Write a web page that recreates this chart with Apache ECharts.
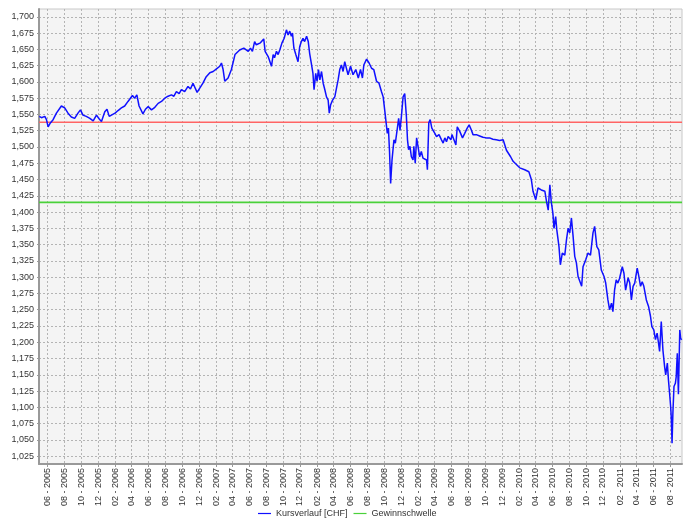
<!DOCTYPE html>
<html>
<head>
<meta charset="utf-8">
<script src="https://cdn.jsdelivr.net/npm/echarts@6/dist/echarts.min.js"></script>
<style>
  html, body { margin: 0; padding: 0; background: #fff; }
  #chart { width: 683px; height: 525px; }
</style>
</head>
<body>
<div id="chart"></div>
<script>
const kursDates = [
  '2005-05-02','2005-05-10','2005-05-22','2005-05-28','2005-06-03','2005-06-11','2005-06-21','2005-07-03','2005-07-21','2005-08-02',
  '2005-08-14','2005-08-26','2005-09-07','2005-09-19','2005-09-28','2005-10-07','2005-10-19','2005-11-01','2005-11-13','2005-11-25',
  '2005-12-05','2005-12-13','2005-12-25','2006-01-02','2006-01-10','2006-01-18','2006-01-31','2006-02-11','2006-02-23','2006-03-07',
  '2006-03-19','2006-03-25','2006-04-04','2006-04-12','2006-04-20','2006-04-28','2006-05-12','2006-05-21','2006-05-31','2006-06-12',
  '2006-06-24','2006-07-06','2006-07-18','2006-07-30','2006-08-11','2006-08-23','2006-09-01','2006-09-10','2006-09-20','2006-09-28',
  '2006-10-10','2006-10-22','2006-10-31','2006-11-09','2006-11-16','2006-11-24','2006-12-03','2006-12-15','2006-12-27','2007-01-09',
  '2007-01-21','2007-02-02','2007-02-14','2007-02-20','2007-02-26','2007-03-04','2007-03-16','2007-03-28','2007-04-10','2007-04-27',
  '2007-05-12','2007-05-19','2007-05-28','2007-06-05','2007-06-12','2007-06-20','2007-06-26','2007-07-02','2007-07-11','2007-07-18',
  '2007-07-23','2007-07-28','2007-08-02','2007-08-08','2007-08-16','2007-08-20','2007-08-26','2007-08-31','2007-09-07','2007-09-13',
  '2007-09-19','2007-09-27','2007-10-05','2007-10-13','2007-10-19','2007-10-25','2007-10-31','2007-11-04','2007-11-09','2007-11-16',
  '2007-11-21','2007-11-24','2007-11-30','2007-12-06','2007-12-12','2007-12-18','2007-12-25','2007-12-31','2008-01-05','2008-01-11',
  '2008-01-17','2008-01-21','2008-01-27','2008-02-01','2008-02-06','2008-02-11','2008-02-17','2008-02-23','2008-02-29','2008-03-06',
  '2008-03-12','2008-03-16','2008-03-21','2008-03-28','2008-04-05','2008-04-11','2008-04-17','2008-04-23','2008-04-29','2008-05-05',
  '2008-05-11','2008-05-17','2008-05-23','2008-06-01','2008-06-10','2008-06-20','2008-06-29','2008-07-07','2008-07-14','2008-07-19',
  '2008-07-29','2008-08-07','2008-08-16','2008-08-24','2008-09-03','2008-09-12','2008-09-21','2008-09-27','2008-10-03','2008-10-09',
  '2008-10-12','2008-10-16','2008-10-20','2008-10-24','2008-10-29','2008-11-05','2008-11-10','2008-11-18','2008-11-22','2008-11-27',
  '2008-12-02','2008-12-08','2008-12-14','2008-12-20','2008-12-24','2008-12-28','2009-01-02','2009-01-07','2009-01-13','2009-01-16',
  '2009-01-21','2009-01-26','2009-01-31','2009-02-06','2009-02-12','2009-02-18','2009-02-24','2009-03-03','2009-03-06','2009-03-11',
  '2009-03-16','2009-03-22','2009-03-27','2009-04-02','2009-04-08','2009-04-17','2009-04-26','2009-05-02','2009-05-08','2009-05-14',
  '2009-05-20','2009-05-30','2009-06-03','2009-06-10','2009-06-17','2009-06-22','2009-07-01','2009-07-11','2009-07-19','2009-07-28',
  '2009-08-04','2009-08-12','2009-08-18','2009-08-30','2009-09-11','2009-09-23','2009-10-05','2009-10-17','2009-10-29','2009-11-10',
  '2009-11-22','2009-12-05','2009-12-11','2009-12-17','2010-01-01','2010-01-10','2010-01-22','2010-02-03','2010-02-21','2010-03-08',
  '2010-03-17','2010-03-23','2010-03-29','2010-04-02','2010-04-10','2010-04-22','2010-05-05','2010-05-11','2010-05-17','2010-05-23',
  '2010-05-28','2010-06-03','2010-06-07','2010-06-13','2010-06-17','2010-06-25','2010-06-30','2010-07-07','2010-07-16','2010-07-22',
  '2010-07-28','2010-08-03','2010-08-09','2010-08-15','2010-08-21','2010-08-27','2010-09-02','2010-09-08','2010-09-15','2010-09-20',
  '2010-09-30','2010-10-08','2010-10-17','2010-10-26','2010-11-01','2010-11-09','2010-11-16','2010-11-25','2010-12-05','2010-12-11',
  '2010-12-19','2010-12-25','2011-01-01','2011-01-06','2011-01-12','2011-01-18','2011-01-24','2011-01-30','2011-02-05','2011-02-09',
  '2011-02-15','2011-02-21','2011-03-02','2011-03-08','2011-03-14','2011-03-20','2011-03-26','2011-04-04','2011-04-10','2011-04-16',
  '2011-04-22','2011-04-28','2011-05-07','2011-05-15','2011-05-22','2011-05-27','2011-06-03','2011-06-09','2011-06-15','2011-06-20',
  '2011-06-24','2011-06-30','2011-07-06','2011-07-12','2011-07-16','2011-07-22','2011-07-26','2011-07-30','2011-08-03','2011-08-05',
  '2011-08-08','2011-08-11','2011-08-15','2011-08-20','2011-08-23','2011-08-27','2011-08-31','2011-09-05','2011-09-08','2011-09-12'
];
const kursValues = [
  1547,1545,1547,1542,1531,1537,1542,1552,1563,1560,
  1552,1546,1544,1552,1557,1549,1547,1544,1540,1549,
  1543,1539,1554,1558,1547,1549,1552,1556,1560,1563,
  1570,1573,1579,1575,1580,1563,1551,1558,1562,1557,
  1561,1567,1570,1575,1578,1580,1578,1585,1582,1588,
  1585,1593,1589,1598,1601,1584,1590,1598,1608,1614,
  1616,1620,1624,1629,1619,1601,1606,1619,1642,1649,
  1652,1654,1647,1652,1647,1662,1657,1654,1660,1657,
  1666,1647,1649,1639,1629,1624,1642,1637,1647,1642,
  1649,1660,1667,1680,1672,1678,1670,1675,1652,1642,
  1644,1631,1654,1662,1667,1662,1670,1662,1644,1629,
  1613,1588,1613,1601,1619,1603,1616,1598,1588,1577,
  1572,1552,1565,1572,1577,1590,1603,1619,1626,1616,
  1631,1634,1611,1624,1611,1619,1606,1619,1606,1626,
  1635,1629,1621,1619,1601,1598,1585,1577,1555,1552,
  1521,1529,1493,1444,1480,1511,1506,1531,1544,1526,
  1547,1577,1582,1547,1511,1496,1501,1485,1480,1501,
  1475,1514,1501,1485,1493,1483,1480,1480,1465,1537,
  1542,1529,1526,1521,1516,1519,1511,1506,1514,1508,
  1516,1511,1519,1511,1503,1531,1524,1514,1521,1529,
  1534,1526,1519,1519,1517,1515,1514,1514,1512,1511,
  1510,1511,1514,1495,1485,1478,1473,1468,1465,1462,
  1450,1432,1429,1419,1437,1434,1432,1416,1403,1442,
  1416,1398,1375,1393,1373,1347,1319,1337,1334,1357,
  1375,1368,1391,1363,1332,1322,1301,1299,1286,1316,
  1327,1337,1334,1368,1378,1347,1342,1311,1301,1291,
  1265,1250,1260,1247,1280,1296,1291,1298,1296,1316,
  1306,1280,1299,1291,1265,1286,1291,1314,1301,1286,
  1293,1286,1265,1255,1240,1224,1219,1204,1214,1199,
  1186,1232,1188,1163,1150,1168,1142,1122,1101,1086,
  1045,1091,1132,1137,1147,1183,1120,1219,1206,1204
];
const einstandsKurs = 1538;
const gewinnschwelle = 1415;

const yTicks = [1025,1050,1075,1100,1125,1150,1175,1200,1225,1250,1275,1300,1325,1350,
  1375,1400,1425,1450,1475,1500,1525,1550,1575,1600,1625,1650,1675,1700];
const xTickMonths = [
  '2005-06','2005-08','2005-10','2005-12','2006-02','2006-04','2006-06','2006-08','2006-10','2006-12',
  '2007-02','2007-04','2007-06','2007-08','2007-10','2007-12','2008-02','2008-04','2008-06','2008-08',
  '2008-10','2008-12','2009-02','2009-04','2009-06','2009-08','2009-10','2009-12','2010-02','2010-04',
  '2010-06','2010-08','2010-10','2010-12','2011-02','2011-04','2011-06','2011-08'
];

function ts(d) {
  const p = d.split('-');
  return Date.UTC(+p[0], +p[1] - 1, p[2] ? +p[2] : 1);
}
const xMin = ts('2005-05-01');
const xMax = ts('2011-09-13');
const xTicks = xTickMonths.map(ts);
const kursData = kursDates.map((d, i) => [ts(d), kursValues[i]]);

const labelFont = { fontFamily: 'Liberation Sans, Arial, sans-serif', fontSize: 9, color: '#333' };
const gridLine = { show: true, lineStyle: { color: '#b4b4b4', type: [2, 2], width: 1 } };

const chart = echarts.init(document.getElementById('chart'));
chart.setOption({
  animation: false,
  backgroundColor: '#fff',
  grid: {
    left: 39, right: 1, top: 9, bottom: 61,
    show: true, backgroundColor: '#f4f4f4', borderColor: '#c8c8c8', borderWidth: 1
  },
  legend: {
    bottom: 2,
    left: 253,
    icon: 'rect',
    itemWidth: 13,
    itemHeight: 1.2,
    itemGap: 6,
    textStyle: labelFont,
    data: ['Kursverlauf [CHF]', 'Gewinnschwelle']
  },
  xAxis: {
    type: 'value',
    min: xMin,
    max: xMax,
    axisLine: { show: true, lineStyle: { color: '#999', width: 2 } },
    axisTick: { show: true, length: 3, customValues: xTicks, lineStyle: { color: '#999' } },
    axisLabel: {
      ...labelFont,
      rotate: 90,
      margin: 4,
      customValues: xTicks,
      formatter: v => {
        const d = new Date(v);
        const m = String(d.getUTCMonth() + 1).padStart(2, '0');
        return m + ' - ' + d.getUTCFullYear();
      }
    },
    splitLine: gridLine
  },
  yAxis: {
    type: 'value',
    min: 1013,
    max: 1712,
    axisLine: { show: true, lineStyle: { color: '#999', width: 2 } },
    axisTick: { show: true, length: 2, customValues: yTicks, lineStyle: { color: '#999' } },
    axisLabel: {
      ...labelFont,
      margin: 5,
      customValues: yTicks,
      formatter: v => Math.floor(v / 1000) + ',' + String(v % 1000).padStart(3, '0')
    },
    splitLine: gridLine
  },
  series: [
    {
      name: 'Einstandskurs',
      type: 'line',
      showSymbol: false,
      silent: true,
      color: '#ff6464',
      lineStyle: { width: 1.6 },
      data: [[xMin, einstandsKurs], [xMax, einstandsKurs]],
      z: 2
    },
    {
      name: 'Gewinnschwelle',
      type: 'line',
      showSymbol: false,
      silent: true,
      color: '#4ad13a',
      lineStyle: { width: 1.6 },
      data: [[xMin, gewinnschwelle], [xMax, gewinnschwelle]],
      z: 2
    },
    {
      name: 'Kursverlauf [CHF]',
      type: 'line',
      showSymbol: false,
      color: '#1010ff',
      lineStyle: { width: 1.5 },
      data: kursData,
      z: 3
    }
  ]
});
</script>
</body>
</html>
